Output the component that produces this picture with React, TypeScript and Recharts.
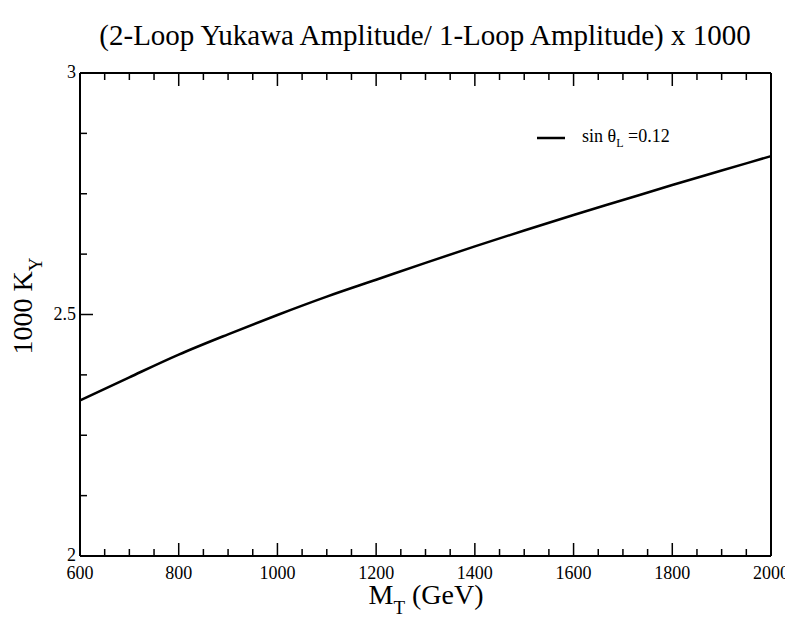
import { LineChart, Line, XAxis, YAxis } from "recharts";

// values
const mtGeV = [600, 700, 800, 900, 1000, 1100, 1200, 1300, 1400, 1500, 1600, 1700, 1800, 1900, 2000];
const kY1000 = [2.322, 2.370, 2.417, 2.459, 2.499, 2.537, 2.572, 2.607, 2.641, 2.674, 2.706, 2.737, 2.768, 2.798, 2.828];

const xTicks = [
  600, 650, 700, 750, 800, 850, 900, 950, 1000, 1050, 1100, 1150, 1200, 1250, 1300, 1350,
  1400, 1450, 1500, 1550, 1600, 1650, 1700, 1750, 1800, 1850, 1900, 1950, 2000,
];
const xLabelTicks = [600, 800, 1000, 1200, 1400, 1600, 1800, 2000];
const yTicks = [2, 2.125, 2.25, 2.375, 2.5, 2.625, 2.75, 2.875, 3];
const yLabelTicks = [2, 2.5, 3];

const data = mtGeV.map((mt, i) => ({ mt, ky: kY1000[i] }));

const FONT = "'Liberation Serif', 'Times New Roman', serif";
const W = 785;
const H = 611;

const BottomTick = ({ x, y, payload }: any) => {
  const major = xLabelTicks.includes(payload.value);
  return (
    <g>
      <line x1={x} y1={y} x2={x} y2={y - (major ? 13 : 7)} stroke="#000" strokeWidth={1.5} />
      {major && (
        <text x={x} y={y + 22.5} textAnchor="middle" fontFamily={FONT} fontSize={18} fill="#000">
          {payload.value}
        </text>
      )}
    </g>
  );
};

const TopTick = ({ x, y, payload }: any) => {
  const major = xLabelTicks.includes(payload.value);
  return <line x1={x} y1={y} x2={x} y2={y + (major ? 13 : 7)} stroke="#000" strokeWidth={1.5} />;
};

const LeftTick = ({ x, y, payload }: any) => {
  const major = yLabelTicks.includes(payload.value);
  return (
    <g>
      <line x1={x} y1={y} x2={x + (major ? 13 : 7)} y2={y} stroke="#000" strokeWidth={1.5} />
      {major && (
        <text x={x - 4} y={y} dy="0.3em" textAnchor="end" fontFamily={FONT} fontSize={18} fill="#000">
          {payload.value}
        </text>
      )}
    </g>
  );
};

const RightTick = ({ x, y, payload }: any) => {
  const major = yLabelTicks.includes(payload.value);
  return <line x1={x} y1={y} x2={x - (major ? 13 : 7)} y2={y} stroke="#000" strokeWidth={1.5} />;
};

const App = () => {
  return (
    <div style={{ position: "relative", width: W, height: H }}>
      <LineChart width={W} height={H} data={data} margin={{ top: 64, right: 21, bottom: 62, left: 71 }}>
        <XAxis
          dataKey="mt"
          type="number"
          domain={[600, 2000]}
          ticks={xTicks}
          interval={0}
          height={1}
          tickSize={0}
          tickMargin={0}
          tickLine={false}
          tick={<BottomTick />}
          axisLine={{ stroke: "#000", strokeWidth: 2 }}
        />
        <XAxis
          xAxisId="top"
          orientation="top"
          dataKey="mt"
          type="number"
          domain={[600, 2000]}
          ticks={xTicks}
          interval={0}
          height={1}
          tickSize={0}
          tickMargin={0}
          tickLine={false}
          tick={<TopTick />}
          axisLine={{ stroke: "#000", strokeWidth: 2 }}
        />
        <YAxis
          type="number"
          domain={[2, 3]}
          ticks={yTicks}
          interval={0}
          width={1}
          tickSize={0}
          tickMargin={0}
          tickLine={false}
          tick={<LeftTick />}
          axisLine={{ stroke: "#000", strokeWidth: 2 }}
          allowDataOverflow
        />
        <YAxis
          yAxisId="right"
          orientation="right"
          type="number"
          domain={[2, 3]}
          ticks={yTicks}
          interval={0}
          width={1}
          tickSize={0}
          tickMargin={0}
          tickLine={false}
          tick={<RightTick />}
          axisLine={{ stroke: "#000", strokeWidth: 2 }}
        />
        <Line
          dataKey="ky"
          type="monotone"
          stroke="#000"
          strokeWidth={2.5}
          dot={false}
          isAnimationActive={false}
        />
      </LineChart>
      <svg
        width={W}
        height={H}
        style={{ position: "absolute", left: 0, top: 0, pointerEvents: "none" }}
      >
        <text x={417} y={37} textAnchor="middle" fontFamily={FONT} fontSize={29} fill="#000">
          (2-Loop Yukawa Amplitude/ 1-Loop Amplitude) x 1000
        </text>
        <text x={418} y={596} textAnchor="middle" fontFamily={FONT} fontSize={28} fill="#000">
          M<tspan fontSize={19} dy={10}>T</tspan>
          <tspan dy={-10}> (GeV)</tspan>
        </text>
        <text
          x={24}
          y={298}
          textAnchor="middle"
          transform="rotate(-90 24 298)"
          fontFamily={FONT}
          fontSize={28}
          fill="#000"
        >
          1000 K<tspan fontSize={19} dy={10}>Y</tspan>
        </text>
        <line x1={529} y1={130} x2={557} y2={130} stroke="#000" strokeWidth={2.5} />
        <text x={574} y={134} fontFamily={FONT} fontSize={18} fill="#000">
          sin θ<tspan fontSize={12} dy={5}>L</tspan>
          <tspan dy={-5}> =0.12</tspan>
        </text>
      </svg>
    </div>
  );
};

export default App;
